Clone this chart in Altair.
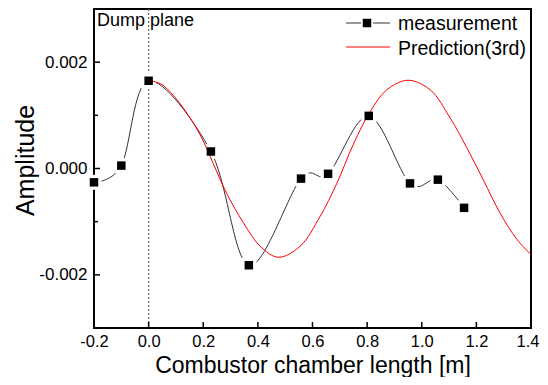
import altair as alt
import pandas as pd

# ---- data ----
meas_x = [-0.2, -0.1, 0.0, 0.228, 0.367, 0.558, 0.657, 0.806, 0.957, 1.059, 1.155]
meas_y = [-0.00026, 0.000055, 0.00165, 0.00032, -0.00182, -0.00019, -0.0001,
          0.00099, -0.00028, -0.00021, -0.00074]

pred_x = [0.0, 0.045, 0.09, 0.152, 0.200, 0.237, 0.286, 0.347, 0.408, 0.475,
          0.555, 0.628, 0.689, 0.750, 0.811, 0.872, 0.950, 1.031, 1.104,
          1.165, 1.226, 1.287, 1.348, 1.400]
pred_y = [0.00166, 0.00159, 0.00138, 0.00095, 0.00052, 0.000087, -0.00047,
          -0.00102, -0.00146, -0.00167, -0.00146, -0.00090, -0.00028, 0.00046,
          0.00107, 0.00148, 0.00166, 0.00148, 0.00095, 0.00039, -0.00022,
          -0.00084, -0.00133, -0.00162]

x_ticks = [-0.2, 0.0, 0.2, 0.4, 0.6, 0.8, 1.0, 1.2, 1.4]
y_ticks = [-0.002, 0.0, 0.002]
y_minor = [-0.001, 0.001]
dump_x = [0.0]
legend_labels = ["measurement", "Prediction(3rd)"]
annotation = ["Dump plane"]
x_title = "Combustor chamber length [m]"
y_title = "Amplitude"

FONT = "Liberation Sans"
W, H = 437, 319

meas = pd.DataFrame({"x": meas_x, "y": meas_y})
pred = pd.DataFrame({"x": pred_x, "y": pred_y})
xt = pd.DataFrame({"x": x_ticks})
yt = pd.DataFrame({"y": y_ticks})
ym = pd.DataFrame({"y": y_minor})
dump = pd.DataFrame({"x": dump_x})

xs = alt.Scale(domain=[-0.2, 1.4], nice=False, zero=False)
ys = alt.Scale(domain=[-0.003, 0.003], nice=False, zero=False)

last_tick = "datum.value >= 1.39"
x_axis = alt.Axis(values=x_ticks, format=".1f",
                  labelExpr="replace(datum.label, '\u2212', '-')",
                  labelAlign={"condition": {"test": last_tick, "value": "right"},
                              "value": "center"},
                  labelOffset={"condition": {"test": last_tick, "value": 8},
                               "value": 0},
                  ticks=False, domain=False, grid=False, labelFlush=False,
                  labelFontSize=16.5, labelPadding=5, labelFont=FONT, labelColor="black",
                  title=x_title, titleFontSize=23, titleFont=FONT,
                  titleFontWeight="normal", titleColor="black",
                  titleBaseline="alphabetic", titleY=44)
y_axis = alt.Axis(values=y_ticks, format=".3f",
                  labelExpr="replace(datum.label, '\u2212', '-')",
                  ticks=False, domain=False, grid=False, labelFlush=False,
                  labelFontSize=17, labelPadding=7, labelFont=FONT, labelColor="black",
                  title=y_title, titleFontSize=25, titleFont=FONT,
                  titleFontWeight="normal", titleColor="black",
                  titleAngle=270, titleAlign="center", titleBaseline="alphabetic",
                  titleX=-61, titleY=151)

X = alt.X("x:Q", scale=xs, axis=x_axis)
Y = alt.Y("y:Q", scale=ys, axis=y_axis)

black_line = alt.Chart(meas).mark_line(color="#333333", strokeWidth=1,
                                       interpolate="cardinal", tension=0).encode(x=X, y=Y)
halo = alt.Chart(meas).mark_square(color="white", opacity=1, size=225).encode(x=X, y=Y)
red = alt.Chart(pred).mark_line(color="#ff0000", strokeWidth=1,
                                interpolate="catmull-rom").encode(x=X, y=Y)
squares = alt.Chart(meas).mark_square(color="black", opacity=1, size=72).encode(x=X, y=Y)

dump_rule = alt.Chart(dump).mark_rule(color="#666666", strokeWidth=1.2,
                                      strokeDash=[2, 2]).encode(x=X)

# inward ticks
xtick = alt.Chart(xt).mark_rule(color="black", strokeWidth=1.5).encode(
    x=X, y=alt.value(H), y2=alt.value(H - 6))
ytick = alt.Chart(yt).mark_rule(color="black", strokeWidth=1.5).encode(
    y=Y, x=alt.value(0), x2=alt.value(6))
yminor = alt.Chart(ym).mark_rule(color="black", strokeWidth=1.5).encode(
    y=Y, x=alt.value(0), x2=alt.value(4))

# annotation
ann = alt.Chart(pd.DataFrame({"t": annotation})).mark_text(
    align="left", baseline="alphabetic", fontSize=18, font=FONT, color="black").encode(
    x=alt.value(3), y=alt.value(17), text="t:N")

# manual legend
leg1a = alt.Chart().mark_rule(color="#333333", strokeWidth=1).encode(
    x=alt.value(252), x2=alt.value(267), y=alt.value(14))
leg1b = alt.Chart().mark_rule(color="#333333", strokeWidth=1).encode(
    x=alt.value(279), x2=alt.value(296), y=alt.value(14))
leg1s = alt.Chart().mark_square(color="black", opacity=1, size=72).encode(
    x=alt.value(273), y=alt.value(14))
leg2 = alt.Chart().mark_rule(color="#ff0000", strokeWidth=1).encode(
    x=alt.value(252), x2=alt.value(296), y=alt.value(38))
leg_t1 = alt.Chart(pd.DataFrame({"t": [legend_labels[0]]})).mark_text(
    align="left", baseline="alphabetic", fontSize=19.5, font=FONT, color="black").encode(
    x=alt.value(304), y=alt.value(20.5), text="t:N")
leg_t2 = alt.Chart(pd.DataFrame({"t": [legend_labels[1]]})).mark_text(
    align="left", baseline="alphabetic", fontSize=19.5, font=FONT, color="black").encode(
    x=alt.value(304), y=alt.value(46), text="t:N")

chart = alt.layer(
    dump_rule, xtick, ytick, yminor, black_line, halo, red, squares,
    ann, leg1a, leg1b, leg1s, leg2, leg_t1, leg_t2
).properties(
    width=W, height=H,
    autosize=alt.AutoSizeParams(type="none"),
    padding={"left": 86, "top": 1, "right": 9, "bottom": 49},
).configure_view(stroke="black", strokeWidth=2).configure_axis(domain=False)

chart.save("out.html", embed_options={"renderer": "svg", "actions": False})
